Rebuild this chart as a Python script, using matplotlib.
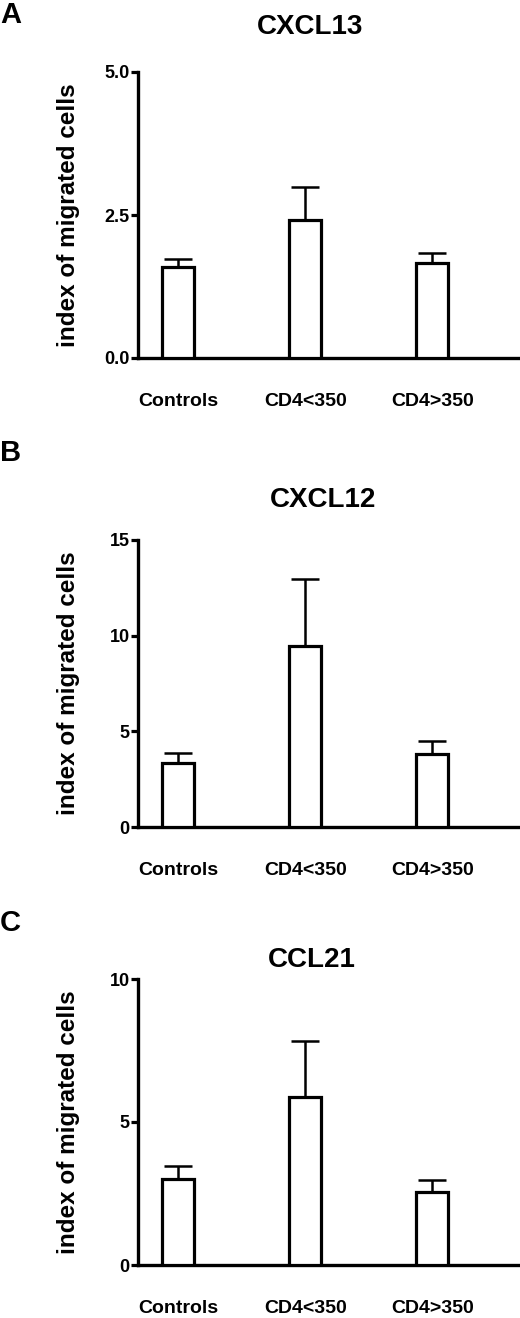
import numpy as np
import matplotlib.pyplot as plt

plt.rcParams['font.family'] = ['Liberation Sans', 'DejaVu Sans']

# groups on the x axis
groups = ["Controls", "CD4<350", "CD4>350"]

# CXCL13 (panel A)
cxcl13_mean = [1.59, 2.41, 1.66]
cxcl13_err = [0.14, 0.58, 0.17]
cxcl13_ticks = [0.0, 2.5, 5.0]
cxcl13_ticklabels = ["0.0", "2.5", "5.0"]

# CXCL12 (panel B)
cxcl12_mean = [3.35, 9.48, 3.82]
cxcl12_err = [0.52, 3.50, 0.68]
cxcl12_ticks = [0, 5, 10, 15]
cxcl12_ticklabels = ["0", "5", "10", "15"]

# CCL21 (panel C)
ccl21_mean = [3.00, 5.87, 2.55]
ccl21_err = [0.46, 1.96, 0.42]
ccl21_ticks = [0, 5, 10]
ccl21_ticklabels = ["0", "5", "10"]

W, H = 520, 1318
fig = plt.figure(figsize=(W / 100, H / 100), dpi=100)

panels = [
    ("A", "CXCL13", cxcl13_mean, cxcl13_err, cxcl13_ticks, cxcl13_ticklabels,
     72, 358, 15, 27, 310),
    ("B", "CXCL12", cxcl12_mean, cxcl12_err, cxcl12_ticks, cxcl12_ticklabels,
     540, 827, 453, 500, 323),
    ("C", "CCL21", ccl21_mean, ccl21_err, ccl21_ticks, ccl21_ticklabels,
     979, 1265, 923, 960, 312),
]

x = np.arange(len(groups))

for letter, title, mean, err, ticks, ticklabels, top, bot, ly, ty, tx in panels:
    ax = fig.add_axes([138 / W, 1 - bot / H, (W - 138) / W, (bot - top) / H])
    ax.bar(x, mean, width=0.25, color="white", edgecolor="black",
           linewidth=2.3, zorder=3)
    ax.errorbar(x, mean, yerr=[np.zeros(len(mean)), err], fmt="none",
                ecolor="black", elinewidth=1.8, capsize=10, capthick=1.8,
                zorder=2)
    ax.set_xlim(-0.315, 2.69)
    ax.set_ylim(ticks[0], ticks[-1])
    ax.set_yticks(ticks)
    ax.set_yticklabels(ticklabels, fontweight="bold", fontsize=13)
    ax.set_xticks(x)
    ax.set_xticklabels(groups, fontweight="bold", fontsize=14)
    ax.tick_params(axis="x", length=0, pad=25)
    ax.tick_params(axis="y", direction="out", length=5, width=2.3, pad=1)
    for s in ["top", "right"]:
        ax.spines[s].set_visible(False)
    for s in ["left", "bottom"]:
        ax.spines[s].set_linewidth(2.4)
    ax.spines["left"].set_capstyle("projecting")
    ax.set_ylabel("index of migrated cells", fontweight="bold", fontsize=17.5)
    ax.yaxis.set_label_coords((69 - 138) / (W - 138), 0.5)
    ax.yaxis.label.set_verticalalignment("center")

    fig.text(tx / W, 1 - ty / H, title, ha="center", va="center",
             fontweight="bold", fontsize=20)
    fig.text(0 / W, 1 - ly / H, letter, ha="left", va="center",
             fontweight="bold", fontsize=21)

fig.savefig("out.png", dpi=100)
